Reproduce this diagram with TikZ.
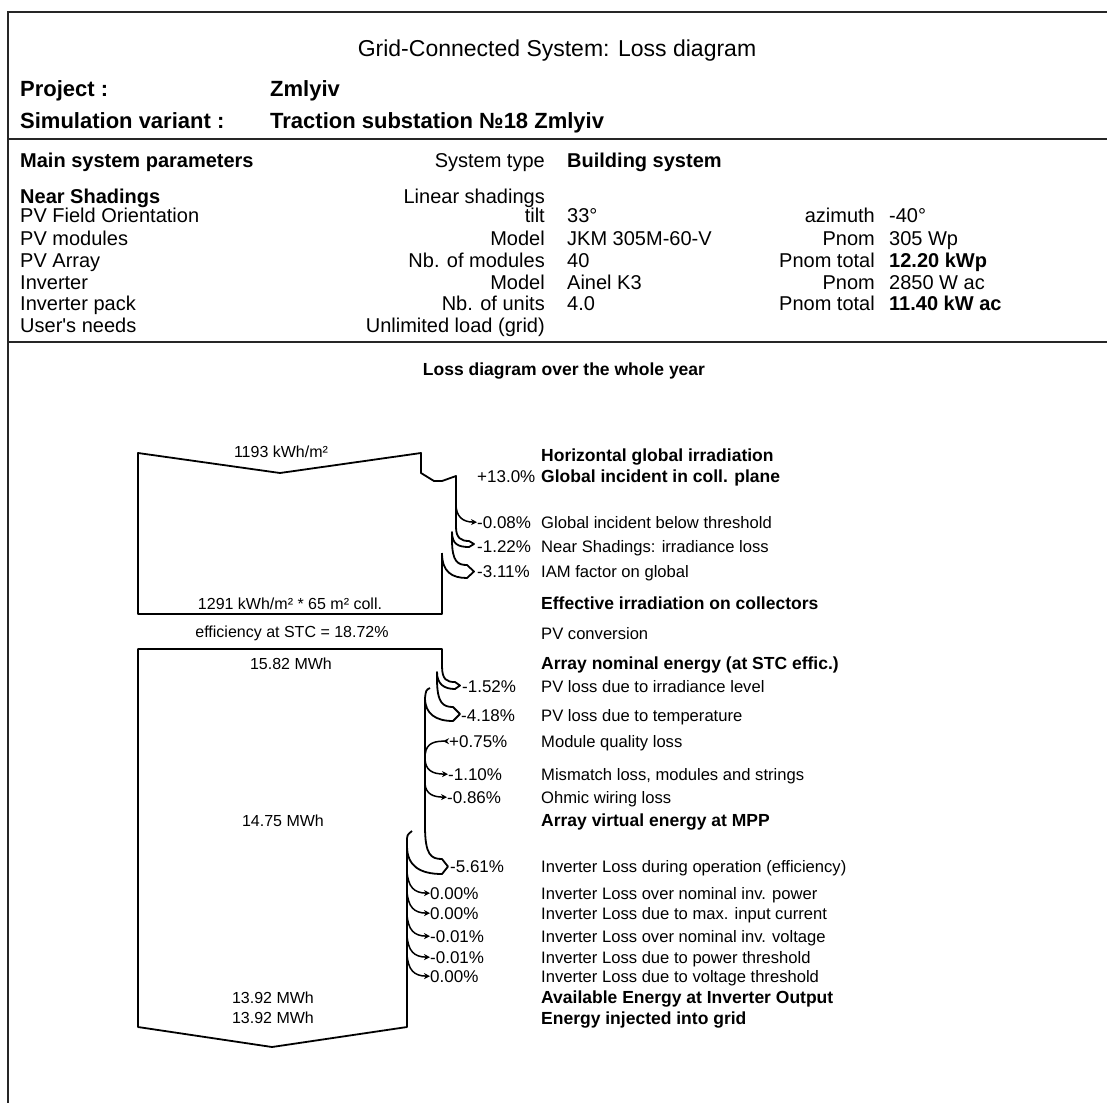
\documentclass[tikz,border=0pt]{standalone}
\usepackage{fontspec}
\setmainfont{Liberation Sans}
\usetikzlibrary{arrows.meta}
\tikzset{
  rahmen/.style={black!85,line width=2.2pt},
  flow/.style={black,line width=1.8pt,line join=round},
  loss/.style={black,line width=1.5pt,-{Stealth[length=6pt,width=6pt]}},
  gain/.style={black,line width=1.5pt,{Stealth[length=6pt,width=6pt,reversed]}-},
  titel/.style={font=\fontsize{23}{26}\selectfont,inner sep=0pt,anchor=base},
  kopf/.style={font=\bfseries\fontsize{22}{25}\selectfont,inner sep=0pt,anchor=base west},
  prm/.style={font=\fontsize{20}{23}\selectfont,inner sep=0pt,anchor=base west},
  prmr/.style={prm,anchor=base east},
  prmb/.style={prm,font=\bfseries\fontsize{20}{23}\selectfont},
  lbl/.style={font=\fontsize{16.6}{19}\selectfont,inner sep=0pt,anchor=base west},
  lblb/.style={lbl,font=\bfseries\fontsize{17.5}{20}\selectfont},
  pct/.style={font=\fontsize{17}{20}\selectfont,inner sep=0pt,anchor=base west},
  val/.style={font=\fontsize{16}{19}\selectfont,inner sep=0pt,anchor=base},
}
\begin{document}
\begin{tikzpicture}[x=1pt,y=-1pt]
  \fill[white] (0,0) rectangle (1107,1103);
  \useasboundingbox (0,0) rectangle (1107,1103);
  % frame
  \draw[rahmen] (1107,12) -- (8,12) -- (8,1103);
  \draw[rahmen] (8,139) -- (1107,139);
  \draw[rahmen] (8,342) -- (1107,342);
  % header
  \node[titel] (titel) at (557,56) {Grid-Connected System: Loss diagram};
  \node[kopf] (prj) at (20,96) {Project :};
  \node[kopf] (prjname) at (270,96) {Zmlyiv};
  \node[kopf] (sim) at (20,128) {Simulation variant :};
  \node[kopf] (simname) at (270,128) {Traction substation №18 Zmlyiv};
  % main system parameters
  \node[prmb] (mainpar) at (20,167) {Main system parameters};
  \node[prmb] (nearsh) at (20,203) {Near Shadings};
  \foreach \n/\yy/\txt in {orient/222/PV Field Orientation, modul/245/PV modules,
      array/267/PV Array, inv/289/Inverter, invpack/310/Inverter pack,
      needs/332/{User\textquotesingle s needs}}
    \node[prm] (l\n) at (20,\yy) {\txt};
  \foreach \n/\yy/\txt in {systype/167/System type, shad/203/Linear shadings, tilt/222/tilt,
      model/245/Model, nbmod/267/Nb. of modules, imodel/289/Model, nbunit/310/Nb. of units,
      load/332/{Unlimited load (grid)}}
    \node[prmr] (k\n) at (545,\yy) {\txt};
  \node[prmb] (vsystype) at (567,167) {Building system};
  \foreach \n/\yy/\txt in {tilt/222/33°, model/245/JKM 305M-60-V, nbmod/267/40,
      imodel/289/Ainel K3, nbunit/310/4.0}
    \node[prm] (v\n) at (567,\yy) {\txt};
  \foreach \n/\yy/\txt in {azim/222/azimuth, pnom/245/Pnom, ptot/267/Pnom total,
      ipnom/289/Pnom, iptot/310/Pnom total}
    \node[prmr] (k\n) at (875,\yy) {\txt};
  \node[prm] (vazim) at (889,222) {-40°};
  \node[prm] (vpnom) at (889,245) {305 Wp};
  \node[prmb] (vptot) at (889,267) {12.20 kWp};
  \node[prm] (vipnom) at (889,289) {2850 W ac};
  \node[prmb] (viptot) at (889,310) {11.40 kW ac};
  % loss diagram
  \node[lblb,anchor=base] (lossdiag) at (564,375) {Loss diagram over the whole year};
  \foreach \n/\yy/\txt in {hor/461/Horizontal global irradiation, glob/482/Global incident in coll. plane,
      eff/609/Effective irradiation on collectors, nom/669/Array nominal energy (at STC effic.),
      mpp/826/Array virtual energy at MPP, avail/1003/Available Energy at Inverter Output,
      grid/1024/Energy injected into grid}
    \node[lblb] (b\n) at (541,\yy) {\txt};
  \foreach \n/\yy/\txt in {thr/528/Global incident below threshold, near/552/Near Shadings: irradiance loss,
      iam/577/IAM factor on global, conv/639/PV conversion, irr/692/PV loss due to irradiance level,
      temp/721/PV loss due to temperature, qual/747/Module quality loss,
      mism/780/{Mismatch loss, modules and strings}, ohm/803/Ohmic wiring loss,
      ioper/872/Inverter Loss during operation (efficiency), ipow/899/Inverter Loss over nominal inv. power,
      icur/919/Inverter Loss due to max. input current, ivolt/942/Inverter Loss over nominal inv. voltage,
      ipthr/963/Inverter Loss due to power threshold, ivthr/982/Inverter Loss due to voltage threshold}
    \node[lbl] (r\n) at (541,\yy) {\txt};
  % percentages
  \node[pct] (p130) at (477,482) {+13.0\%};
  \node[pct] (p008) at (477,528) {-0.08\%};
  \node[pct] (p122) at (477,552) {-1.22\%};
  \node[pct] (p311) at (477,577) {-3.11\%};
  \node[pct] (p152) at (462,692) {-1.52\%};
  \node[pct] (p418) at (461,721) {-4.18\%};
  \node[pct] (p075) at (449,747) {+0.75\%};
  \node[pct] (p110) at (448,780) {-1.10\%};
  \node[pct] (p086) at (447,803) {-0.86\%};
  \node[pct] (p561) at (450,872) {-5.61\%};
  \node[pct] (pa) at (430,899) {0.00\%};
  \node[pct] (pb) at (430,919) {0.00\%};
  \node[pct] (pc) at (430,942) {-0.01\%};
  \node[pct] (pd) at (430,963) {-0.01\%};
  \node[pct] (pe) at (430,982) {0.00\%};
  % values in the flow
  \node[val] (e1193) at (281,457) {1193 kWh/m²};
  \node[val] (e1291) at (290,609) {1291 kWh/m² * 65 m² coll.};
  \node[val] (effstc) at (292,637) {efficiency at STC = 18.72\%};
  \node[val] (e1582) at (291,669) {15.82 MWh};
  \node[val] (e1475) at (283,826) {14.75 MWh};
  \node[val] (e1392a) at (273,1003) {13.92 MWh};
  \node[val] (e1392b) at (273,1023) {13.92 MWh};
  % irradiation flow
  \draw[flow] (456,528) -- (456,476) -- (442,481) -- (434,481) -- (421,473) -- (421,453)
    -- (280,473) -- (138,453) -- (138,614) -- (442,614) -- (442,553);
  \draw[loss] (456,504) .. controls (456,516) and (462,522) .. (p008.west);
  \draw[flow] (456,527) .. controls (456,538) and (461,541) .. (469,541) -- (474,544) -- (469,547)
    .. controls (458,547) and (452,544) .. (452,532) -- (452,541);
  \draw[flow] (452,540) .. controls (452,562) and (458,565) .. (467,565) -- (474,571.5) -- (467,578)
    .. controls (452,578) and (442,572) .. (442,553);
  % energy flow
  \draw[flow] (442,667) -- (442,649) -- (138,649) -- (138,1027) -- (272,1047) -- (407,1027)
    -- (407,842) .. controls (407,835) .. (412,831);
  \draw[flow] (442,666) .. controls (442,680) and (447,682) .. (455,682) -- (460,685.5) -- (455,689)
    .. controls (444,689) and (437,684) .. (437,672) -- (437,680);
  \draw[flow] (437,679) .. controls (437,703) and (443,707) .. (453,707) -- (460,714) -- (453,721)
    .. controls (436,721) and (425,714) .. (425,698);
  \draw[flow] (430,688) .. controls (426,690) .. (425,698) -- (425,828);
  \draw[gain] (p075.west) .. controls (430,741) and (425,746) .. (425,758);
  \draw[loss] (425,758) .. controls (425,770) and (432,774) .. (p110.west);
  \draw[loss] (425,784) .. controls (426,794) and (433,797) .. (p086.west);
  \draw[flow] (425,826) .. controls (425,855) and (431,859) .. (442,859) -- (448,866.5) -- (442,874)
    .. controls (420,874) and (407,866) .. (407,846);
  \foreach \p/\yy in {pa/893,pb/913,pc/936,pd/957,pe/976}
    \draw[loss] (407,\yy-22) .. controls (408,\yy-6) and (414,\yy) .. (\p.west);
\end{tikzpicture}
\end{document}
